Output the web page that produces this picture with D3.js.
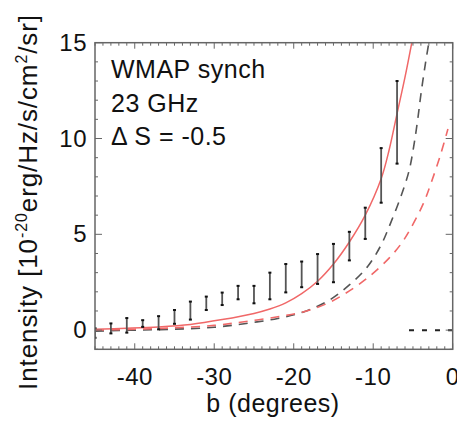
<!DOCTYPE html>
<html>
<head>
<meta charset="utf-8">
<script src="https://cdn.jsdelivr.net/npm/d3@7"></script>
<style>
  body { margin: 0; background: #fff; }
  text { font-family: "Liberation Sans", Arial, Helvetica, sans-serif; fill: #111; }
</style>
</head>
<body>
<script>
// error bars: latitude, lower and upper edge
var barB  = [-45, -43, -41, -39, -37, -35, -33, -31, -29, -27, -25, -23, -21, -19, -17, -15, -13, -11, -9, -7];
var barLo = [-0.4, -0.17, -0.13, 0.17, 0.04, 0.33, 0.55, 1.05, 1.31, 1.61, 1.40, 1.61, 1.97, 2.24, 2.41, 2.50, 3.64, 4.76, 6.65, 8.69];
var barHi = [0.1, 0.35, 0.63, 0.52, 0.73, 1.05, 1.49, 1.75, 1.96, 2.31, 2.31, 3.0, 3.45, 3.58, 3.97, 4.50, 5.13, 6.39, 9.50, 13.0];

// red solid model
var solidB = [-45, -41, -37, -33, -29, -25, -23, -21, -19, -17, -15, -13, -11, -9, -8, -7, -6, -5.1];
var solidY = [0.05, 0.1, 0.17, 0.3, 0.55, 0.87, 1.1, 1.42, 1.9, 2.55, 3.45, 4.6, 6.0, 7.9, 9.4, 11.3, 13.2, 15.1];

// grey dashed model
var greyB = [-45, -40, -35, -30, -26, -22, -18.7, -15.5, -13, -10.7, -9, -7.8, -6.5, -5.5, -4.9, -4.4, -4.0, -3.4, -3.0];
var greyY = [-0.05, 0.0, 0.05, 0.15, 0.35, 0.61, 0.96, 1.57, 2.36, 3.32, 4.45, 5.6, 7.0, 8.3, 9.6, 11.0, 12.3, 14.0, 15.0];

// red dashed model
var redDashB = [-45, -40, -35, -30, -26, -22, -18.7, -15.5, -13, -10.5, -8, -6.5, -5.3, -3.7, -2.7, -1.5, -0.6];
var redDashY = [0.0, 0.05, 0.12, 0.25, 0.45, 0.7, 0.96, 1.45, 2.05, 2.8, 3.76, 4.5, 5.3, 6.6, 7.7, 9.2, 10.5];

// black dashed zero line
var zeroB = [-5.5, 0];
var zeroY = [0, 0];

var xTicks = [-40, -30, -20, -10, 0];
var yTicks = [0, 5, 10, 15];
var labelLines = ["WMAP synch", "23 GHz", "\u0394 S = -0.5"];

var w = 457, h = 424;
var pLeft = 95, pRight = 452.7, pTop = 42.7, pBottom = 349.3;

var svg = d3.select("body")
            .append("svg")
            .attr("width", w)
            .attr("height", h);

var x = d3.scaleLinear().domain([-45, 0]).range([pLeft, pRight]);
var y = d3.scaleLinear().domain([-1, 15]).range([pBottom, pTop]);

svg.append("clipPath").attr("id", "plot")
    .append("rect")
    .attr("x", pLeft).attr("y", pTop)
    .attr("width", pRight - pLeft).attr("height", pBottom - pTop);

var g = svg.append("g").attr("clip-path", "url(#plot)");

var line = d3.line()
    .x(function(d){ return x(d[0]) })
    .y(function(d){ return y(d[1]) })
    .curve(d3.curveCatmullRom.alpha(0.5));

function pairs(a, b){ return a.map(function(v, i){ return [v, b[i]] }) }

g.append("path")
    .datum(pairs(greyB, greyY))
    .attr("d", line)
    .attr("fill", "none")
    .attr("stroke", "#555")
    .attr("stroke-width", 1.6)
    .attr("stroke-dasharray", "9,7");

g.append("path")
    .datum(pairs(redDashB, redDashY))
    .attr("d", line)
    .attr("fill", "none")
    .attr("stroke", "#f06868")
    .attr("stroke-width", 1.6)
    .attr("stroke-dasharray", "9,7");

g.append("path")
    .datum(pairs(solidB, solidY))
    .attr("d", line)
    .attr("fill", "none")
    .attr("stroke", "#f06868")
    .attr("stroke-width", 1.5);

g.append("path")
    .datum(pairs(zeroB, zeroY))
    .attr("d", line)
    .attr("fill", "none")
    .attr("stroke", "#222")
    .attr("stroke-width", 2)
    .attr("stroke-dasharray", "5,8");

// error bars
var bars = g.selectAll("g.bar")
    .data(barB.map(function(b, i){ return {b: b, lo: barLo[i], hi: barHi[i]} }))
    .enter()
    .append("g");

bars.append("line")
    .attr("x1", function(d){ return x(d.b) })
    .attr("x2", function(d){ return x(d.b) })
    .attr("y1", function(d){ return y(d.lo) })
    .attr("y2", function(d){ return y(d.hi) })
    .attr("stroke", "#555")
    .attr("stroke-width", 1.8);

bars.selectAll("rect")
    .data(function(d){ return [[d.b, d.lo], [d.b, d.hi]] })
    .enter()
    .append("rect")
    .attr("x", function(d){ return x(d[0]) - 1.5 })
    .attr("y", function(d){ return y(d[1]) - 1 })
    .attr("width", 3)
    .attr("height", 2)
    .attr("fill", "#111");

// frame with inward ticks on all four sides
var axisCol = "#666";
svg.append("rect")
    .attr("x", pLeft).attr("y", pTop)
    .attr("width", pRight - pLeft).attr("height", pBottom - pTop)
    .attr("fill", "none")
    .attr("stroke", axisCol)
    .attr("stroke-width", 1.5);

var xMinor = d3.range(-45, 1, 1);
var yMinor = d3.range(-1, 16, 1);

svg.selectAll("line.xt")
    .data(xMinor)
    .enter()
    .append("line")
    .attr("x1", function(d){ return x(d) })
    .attr("x2", function(d){ return x(d) })
    .attr("y1", pBottom)
    .attr("y2", function(d){ return pBottom - (d % 10 == 0 ? 6 : 3) })
    .attr("stroke", axisCol);

svg.selectAll("line.xt2")
    .data(xMinor)
    .enter()
    .append("line")
    .attr("x1", function(d){ return x(d) })
    .attr("x2", function(d){ return x(d) })
    .attr("y1", pTop)
    .attr("y2", function(d){ return pTop + (d % 10 == 0 ? 6 : 3) })
    .attr("stroke", axisCol);

svg.selectAll("line.yt")
    .data(yMinor)
    .enter()
    .append("line")
    .attr("y1", function(d){ return y(d) })
    .attr("y2", function(d){ return y(d) })
    .attr("x1", pLeft)
    .attr("x2", function(d){ return pLeft + (d % 5 == 0 ? 7 : 3) })
    .attr("stroke", axisCol);

svg.selectAll("line.yt2")
    .data(yMinor)
    .enter()
    .append("line")
    .attr("y1", function(d){ return y(d) })
    .attr("y2", function(d){ return y(d) })
    .attr("x1", pRight)
    .attr("x2", function(d){ return pRight - (d % 5 == 0 ? 7 : 3) })
    .attr("stroke", axisCol);

// tick labels
svg.selectAll("text.xl")
    .data(xTicks)
    .enter()
    .append("text")
    .attr("x", function(d){ return x(d) })
    .attr("y", 385)
    .attr("text-anchor", "middle")
    .style("font-size", "24px")
    .style("letter-spacing", "0.5px")
    .text(function(d){ return d });

svg.selectAll("text.yl")
    .data(yTicks)
    .enter()
    .append("text")
    .attr("x", 87)
    .attr("y", function(d){ return y(d) + 8 })
    .attr("text-anchor", "end")
    .style("font-size", "24px")
    .style("letter-spacing", "0.5px")
    .text(function(d){ return d });

svg.append("text")
    .attr("x", 273)
    .attr("y", 412)
    .attr("text-anchor", "middle")
    .style("font-size", "25px")
    .style("letter-spacing", "0.5px")
    .text("b (degrees)");

var yl = svg.append("text")
    .attr("transform", "translate(37,202) rotate(-90)")
    .attr("text-anchor", "middle")
    .style("font-size", "26px")
    .style("letter-spacing", "0.9px");
yl.append("tspan").text("Intensity [10");
yl.append("tspan").attr("dy", -10).style("font-size", "16px").text("-20");
yl.append("tspan").attr("dy", 10).text("erg/Hz/s/cm");
yl.append("tspan").attr("dy", -10).style("font-size", "16px").text("2");
yl.append("tspan").attr("dy", 10).text("/sr]");

svg.selectAll("text.note")
    .data(labelLines)
    .enter()
    .append("text")
    .attr("x", 111)
    .attr("y", function(d, i){ return 78 + i * 33.5 })
    .style("font-size", "25px")
    .style("letter-spacing", "0.5px")
    .text(function(d){ return d });
</script>
</body>
</html>
